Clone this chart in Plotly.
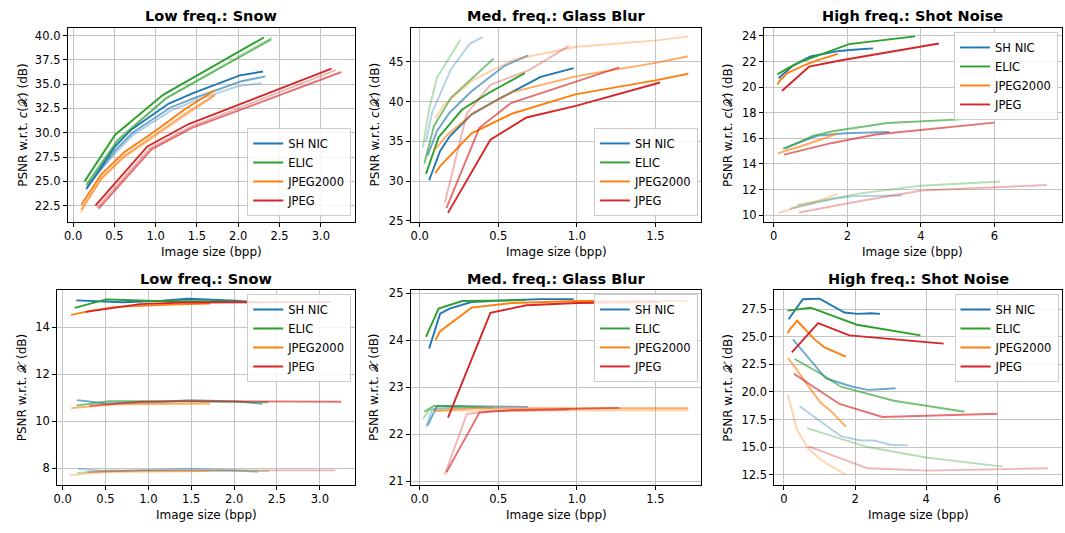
import plotly.graph_objects as go

W, H = 1065, 533

METHODS = ["SH NIC", "ELIC", "JPEG2000", "JPEG"]
COLORS = ["#1f77b4", "#2ca02c", "#ff7f0e", "#d62728"]
LEVEL_ALPHA = [1.0, 0.65, 0.35]  # severity 1, 2, 3

# ---------------- Low freq.: Snow ----------------
snow_bpp_shnic = [[0.16, 0.50, 0.70, 1.16, 1.46, 2.02, 2.30],
                  [0.17, 0.51, 0.72, 1.18, 1.48, 2.04, 2.33],
                  [0.18, 0.52, 0.73, 1.19, 1.48, 2.00, 2.28]]
snow_c_shnic = [[24.2, 28.5, 30.3, 33.0, 34.1, 35.9, 36.3],
                [24.4, 28.2, 30.0, 32.6, 33.6, 35.3, 35.8],
                [24.6, 28.0, 29.8, 32.3, 33.3, 34.8, 35.1]]
snow_x_shnic = [[15.14, 15.07, 15.06, 15.12, 15.21, 15.12, 15.03],
                [10.89, 10.75, 10.78, 10.82, 10.89, 10.84, 10.73],
                [7.97, 7.87, 7.88, 7.92, 7.97, 7.91, 7.83]]

snow_bpp_elic = [[0.14, 0.51, 1.09, 2.31],
                 [0.16, 0.54, 1.12, 2.40],
                 [0.17, 0.55, 1.13, 2.41]]
snow_c_elic = [[25.0, 29.8, 33.9, 39.8],
               [24.6, 29.2, 33.5, 39.6],
               [24.8, 29.4, 33.6, 39.8]]
snow_x_elic = [[14.82, 15.18, 15.11, 15.08],
               [10.66, 10.85, 10.85, 10.80],
               [7.79, 7.90, 7.88, 7.87]]

snow_bpp_j2k = [[0.10, 0.34, 0.62, 1.00, 1.35, 1.72],
                [0.10, 0.34, 0.62, 1.00, 1.35, 1.72],
                [0.09, 0.33, 0.61, 0.99, 1.34, 1.71]]
snow_c_j2k = [[22.6, 25.7, 28.0, 30.2, 32.4, 34.4],
              [22.1, 25.3, 27.6, 29.8, 31.9, 33.9],
              [21.8, 25.1, 27.4, 29.6, 31.7, 33.8]]
snow_x_j2k = [[14.52, 14.70, 14.86, 14.93, 14.97, 15.00],
              [10.55, 10.63, 10.71, 10.73, 10.75, 10.75],
              [7.69, 7.79, 7.83, 7.85, 7.86, 7.87]]

snow_bpp_jpeg = [[0.27, 0.90, 1.40, 3.13],
                 [0.31, 0.95, 1.44, 3.25],
                 [0.29, 0.93, 1.42, 3.18]]
snow_c_jpeg = [[22.5, 28.6, 30.9, 36.6],
               [22.2, 28.3, 30.5, 36.25],
               [22.3, 28.4, 30.6, 36.45]]
snow_x_jpeg = [[14.65, 14.98, 15.05, 15.07],
               [10.66, 10.82, 10.85, 10.82],
               [7.83, 7.90, 7.90, 7.90]]

# ---------------- Med. freq.: Glass Blur ----------------
glass_bpp_shnic = [[0.06, 0.13, 0.19, 0.33, 0.51, 0.77, 0.98],
                   [0.05, 0.11, 0.19, 0.33, 0.54, 0.69],
                   [0.04, 0.08, 0.20, 0.32, 0.40]]
glass_c_shnic = [[30.1, 33.8, 35.6, 38.4, 40.4, 43.1, 44.2],
                 [33.2, 36.3, 38.6, 41.3, 44.5, 45.8],
                 [35.0, 38.7, 44.1, 47.3, 48.1]]
glass_x_shnic = [[23.82, 24.56, 24.67, 24.81, 24.84, 24.87, 24.87],
                 [22.18, 22.60, 22.60, 22.59, 22.58, 22.58],
                 [22.16, 22.52, 22.56, 22.56, 22.56]]

glass_bpp_elic = [[0.04, 0.12, 0.27, 0.45, 0.67],
                  [0.03, 0.09, 0.20, 0.47],
                  [0.02, 0.06, 0.11, 0.26]]
glass_c_elic = [[30.9, 35.5, 39.0, 41.2, 43.6],
                [32.2, 36.9, 40.5, 45.4],
                [34.2, 39.1, 43.0, 47.8]]
glass_x_elic = [[24.07, 24.67, 24.83, 24.84, 24.85],
                [22.48, 22.60, 22.60, 22.56],
                [22.32, 22.51, 22.56, 22.56]]

glass_bpp_j2k = [[0.10, 0.13, 0.33, 0.59, 0.99, 1.51, 1.71],
                 [0.09, 0.18, 0.35, 0.59, 1.00, 1.51, 1.71],
                 [0.10, 0.15, 0.33, 0.60, 1.00, 1.51, 1.71]]
glass_c_j2k = [[31.0, 31.9, 36.0, 38.5, 40.9, 42.7, 43.5],
               [33.8, 35.9, 38.7, 41.2, 43.2, 44.9, 45.7],
               [37.9, 39.5, 42.6, 45.3, 46.9, 47.7, 48.2]]
glass_x_j2k = [[24.00, 24.19, 24.69, 24.79, 24.83, 24.83, 24.83],
               [22.49, 22.51, 22.55, 22.55, 22.55, 22.55, 22.55],
               [22.50, 22.50, 22.51, 22.51, 22.51, 22.51, 22.51]]

glass_bpp_jpeg = [[0.18, 0.45, 0.68, 1.00, 1.53],
                  [0.17, 0.38, 0.58, 1.00, 1.27],
                  [0.16, 0.30, 0.45, 0.70, 0.95]]
glass_c_jpeg = [[26.0, 35.2, 38.0, 39.5, 42.4],
                [26.6, 36.7, 39.8, 42.5, 44.3],
                [27.3, 38.5, 42.1, 44.0, 47.0]]
glass_x_jpeg = [[22.35, 24.58, 24.74, 24.79, 24.81],
                [21.19, 22.46, 22.51, 22.54, 22.56],
                [21.14, 22.43, 22.49, 22.51, 22.52]]

# ---------------- High freq.: Shot Noise ----------------
shot_bpp_shnic = [[0.13, 0.53, 1.00, 1.70, 2.07, 2.44, 2.70],
                  [0.25, 1.18, 1.93, 2.35, 2.72, 3.14],
                  [0.44, 1.60, 2.16, 2.53, 3.00, 3.49]]
shot_c_shnic = [[20.7, 21.7, 22.4, 22.8, 22.9, 23.0, 23.03],
                [15.2, 16.2, 16.4, 16.45, 16.5, 16.5],
                [10.5, 11.25, 11.48, 11.5, 11.52, 11.53]]
shot_x_shnic = [[26.58, 28.39, 28.44, 27.18, 27.06, 27.12, 27.06],
                [24.75, 21.21, 20.47, 20.18, 20.24, 20.33],
                [18.70, 15.99, 15.60, 15.60, 15.22, 15.16]]

shot_bpp_elic = [[0.10, 0.40, 0.75, 2.05, 3.84],
                 [0.30, 1.06, 1.60, 3.09, 5.08],
                 [0.65, 2.35, 4.00, 6.15]]
shot_c_elic = [[21.0, 21.5, 22.0, 23.36, 23.97],
               [15.2, 16.2, 16.55, 17.2, 17.48],
               [10.8, 11.7, 12.3, 12.63]]
shot_x_elic = [[27.35, 27.45, 27.62, 26.08, 25.11],
               [22.98, 21.6, 20.47, 19.2, 18.2],
               [16.72, 15.01, 14.07, 13.24]]

shot_bpp_j2k = [[0.10, 0.16, 0.37, 0.86, 1.14, 1.74],
                [0.11, 0.34, 0.76, 1.04, 1.32, 1.74],
                [0.11, 0.36, 0.67, 1.04, 1.74]]
shot_c_j2k = [[20.2, 20.5, 21.1, 21.75, 22.05, 22.6],
              [14.8, 15.05, 15.4, 15.65, 15.95, 16.39],
              [10.18, 10.35, 10.7, 10.95, 11.66]]
shot_x_j2k = [[25.29, 25.64, 26.44, 24.75, 24.02, 23.19],
              [23.07, 22.1, 20.18, 18.99, 18.26, 16.87],
              [19.73, 16.63, 14.92, 13.83, 12.5]]

shot_bpp_jpeg = [[0.22, 0.96, 1.84, 4.49],
                 [0.28, 1.56, 2.77, 6.00],
                 [0.69, 2.35, 4.03, 7.43]]
shot_c_jpeg = [[19.7, 21.6, 22.1, 23.41],
               [14.73, 15.62, 16.3, 17.23],
               [10.2, 11.1, 11.92, 12.35]]
shot_x_jpeg = [[23.57, 26.23, 25.11, 24.37],
               [21.65, 18.91, 17.73, 18.02],
               [15.07, 13.09, 12.88, 13.09]]

TITLES = ["Low freq.: Snow", "Med. freq.: Glass Blur", "High freq.: Shot Noise"]
YLABELS = ["PSNR w.r.t. <i>c</i>(𝒳) (dB)", "PSNR w.r.t. 𝒳 (dB)"]
XLABEL = "Image size (bpp)"

BPP = [
    [snow_bpp_shnic, snow_bpp_elic, snow_bpp_j2k, snow_bpp_jpeg],
    [glass_bpp_shnic, glass_bpp_elic, glass_bpp_j2k, glass_bpp_jpeg],
    [shot_bpp_shnic, shot_bpp_elic, shot_bpp_j2k, shot_bpp_jpeg],
]
PSNR_C = [
    [snow_c_shnic, snow_c_elic, snow_c_j2k, snow_c_jpeg],
    [glass_c_shnic, glass_c_elic, glass_c_j2k, glass_c_jpeg],
    [shot_c_shnic, shot_c_elic, shot_c_j2k, shot_c_jpeg],
]
PSNR_X = [
    [snow_x_shnic, snow_x_elic, snow_x_j2k, snow_x_jpeg],
    [glass_x_shnic, glass_x_elic, glass_x_j2k, glass_x_jpeg],
    [shot_x_shnic, shot_x_elic, shot_x_j2k, shot_x_jpeg],
]

# Panel geometry in pixels: (left, right, top, bottom)
BOXES = [
    [(64, 352, 24.5, 221.8), (408.3, 700, 24.5, 221.8), (762.7, 1061.7, 24.5, 221.8)],
    [(53.3, 352.3, 291.7, 489.7), (408.3, 700, 291.7, 489.7), (773.3, 1062.3, 291.7, 489.7)],
]
XRANGES = [[-0.064, 3.41], [-0.057, 1.793], [-0.27, 7.83]]
YRANGES = [
    [[20.86, 40.77], [24.9, 49.25], [9.49, 24.62]],
    [[7.30, 15.57], [20.93, 25.06], [11.62, 29.2]],
]
XTICKS = [[0.0, 0.5, 1.0, 1.5, 2.0, 2.5, 3.0], [0.0, 0.5, 1.0, 1.5], [0, 2, 4, 6]]
XFMT = [".1f", ".1f", "d"]
YTICKS = [
    [[22.5, 25.0, 27.5, 30.0, 32.5, 35.0, 37.5, 40.0], [25, 30, 35, 40, 45], [10, 12, 14, 16, 18, 20, 22, 24]],
    [[8, 10, 12, 14], [21, 22, 23, 24, 25], [12.5, 15.0, 17.5, 20.0, 22.5, 25.0, 27.5]],
]
YFMT = [[".1f", "d", "d"], ["d", "d", ".1f"]]
# Legend anchor (x, y, yanchor) in pixels
LEGENDS = [
    [(348.5, 216.0, "bottom"), (696.5, 216.0, "bottom"), (1058.0, 28.5, "top")],
    [(348.5, 295.5, "top"), (696.5, 295.5, "top"), (1058.5, 295.5, "top")],
]
YLABEL_X = [[19, 372, 727], [18, 372, 727]]
TITLE_Y = [12.5, 280]
XLABEL_Y = [253, 521]

FONT = "DejaVu Sans"


def px_x(v):
    return v / W


def px_y(v):
    return 1 - v / H


def rgba(hexcol, a):
    h = hexcol.lstrip("#")
    r, g, b = int(h[0:2], 16), int(h[2:4], 16), int(h[4:6], 16)
    return f"rgba({r},{g},{b},{a})"


fig = go.Figure()
layout = {}
annotations = []

for row in range(2):
    for col in range(3):
        idx = row * 3 + col + 1
        xa = "x" if idx == 1 else f"x{idx}"
        ya = "y" if idx == 1 else f"y{idx}"
        leg = "legend" if idx == 1 else f"legend{idx}"
        ydata = PSNR_C if row == 0 else PSNR_X
        for m, name in enumerate(METHODS):
            for lvl in range(3):
                fig.add_trace(go.Scatter(
                    x=BPP[col][m][lvl], y=ydata[col][m][lvl],
                    mode="lines", name=name,
                    line=dict(color=rgba(COLORS[m], LEVEL_ALPHA[lvl]), width=1.9),
                    showlegend=(lvl == 0), legend=leg,
                    xaxis=xa, yaxis=ya, hoverinfo="skip",
                ))
        l, r, t, b = BOXES[row][col]
        axis_common = dict(
            showline=True, mirror=True, linecolor="black", linewidth=1,
            ticks="outside", ticklen=4, tickwidth=1, tickcolor="black",
            showgrid=True, gridcolor="#c4c4c4", gridwidth=1, zeroline=False,
            tickfont=dict(family=FONT, size=11.5, color="black"),
        )
        layout["xaxis" if idx == 1 else f"xaxis{idx}"] = dict(
            axis_common, domain=[px_x(l), px_x(r)], anchor=ya,
            range=XRANGES[col], tickvals=XTICKS[col], tickformat=XFMT[col],
        )
        layout["yaxis" if idx == 1 else f"yaxis{idx}"] = dict(
            axis_common, domain=[px_y(b), px_y(t)], anchor=xa,
            range=YRANGES[row][col], tickvals=YTICKS[row][col], tickformat=YFMT[row][col],
        )
        lx, ly, yanc = LEGENDS[row][col]
        layout[leg] = dict(
            x=px_x(lx), y=px_y(ly), xanchor="right", yanchor=yanc,
            xref="paper", yref="paper",
            bgcolor="rgba(255,255,255,0.85)", bordercolor="#cccccc", borderwidth=1,
            font=dict(family=FONT, size=11.5, color="black"),
            tracegroupgap=0, itemwidth=30,
        )
        cx = (l + r) / 2
        annotations.append(dict(
            x=px_x(cx), y=px_y(TITLE_Y[row]), xref="paper", yref="paper",
            text=f"<b>{TITLES[col]}</b>", showarrow=False,
            font=dict(family=FONT, size=14.5, color="black"),
            xanchor="center", yanchor="middle",
        ))
        annotations.append(dict(
            x=px_x(cx), y=px_y(XLABEL_Y[row]), xref="paper", yref="paper",
            text=XLABEL, showarrow=False,
            font=dict(family=FONT, size=12, color="black"),
            xanchor="center", yanchor="middle",
        ))
        annotations.append(dict(
            x=px_x(YLABEL_X[row][col]), y=px_y((t + b) / 2), xref="paper", yref="paper",
            text=YLABELS[row], showarrow=False, textangle=-90,
            font=dict(family=FONT, size=12, color="black"),
            xanchor="center", yanchor="middle",
        ))

fig.update_layout(
    width=W, height=H,
    margin=dict(l=0, r=0, t=0, b=0),
    paper_bgcolor="white", plot_bgcolor="white",
    annotations=annotations,
    **layout,
)

fig.write_html("out.html")
